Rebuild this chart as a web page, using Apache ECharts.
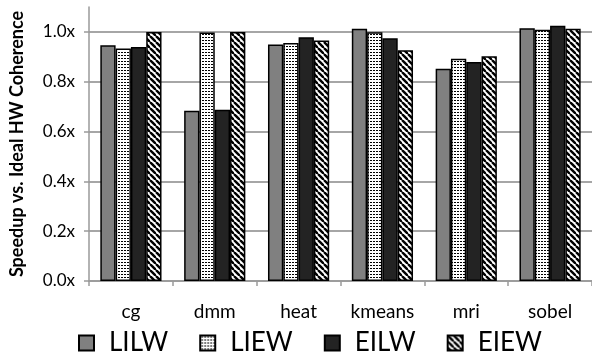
<!DOCTYPE html>
<html>
<head>
<meta charset="utf-8">
<script src="https://cdn.jsdelivr.net/npm/echarts@6/dist/echarts.min.js"></script>
<style>
html,body{margin:0;padding:0;background:#fff;}
#chart{width:592px;height:354px;}
</style>
</head>
<body>
<div id="chart"></div>
<script>
const categories = ['cg', 'dmm', 'heat', 'kmeans', 'mri', 'sobel'];
const seriesNames = ['LILW', 'LIEW', 'EILW', 'EIEW'];
const LILW = [0.946, 0.683, 0.949, 1.013, 0.852, 1.015];
const LIEW = [0.933, 0.998, 0.955, 0.999, 0.892, 1.009];
const EILW = [0.939, 0.688, 0.979, 0.975, 0.879, 1.025];
const EIEW = [1.000, 1.000, 0.966, 0.926, 0.902, 1.013];
const yTicks = [0, 0.2, 0.4, 0.6, 0.8, 1.0];

function dotPattern() {
  const c = document.createElement('canvas');
  c.width = 3; c.height = 3;
  const g = c.getContext('2d');
  g.fillStyle = '#fff'; g.fillRect(0, 0, 3, 3);
  g.fillStyle = '#000'; g.fillRect(1, 1, 2, 1);
  return { image: c, repeat: 'repeat' };
}
function stripePattern() {
  const n = 6;
  const c = document.createElement('canvas');
  c.width = n; c.height = n;
  const g = c.getContext('2d');
  g.fillStyle = '#fff'; g.fillRect(0, 0, n, n);
  g.strokeStyle = '#000';
  g.lineWidth = n / (2 * Math.SQRT2) + 0.3;
  for (const k of [-n, 0, n]) {
    g.beginPath();
    g.moveTo(k, 0); g.lineTo(k + n, n);
    g.stroke();
  }
  return { image: c, repeat: 'repeat' };
}

const fills = ['#808080', dotPattern(), '#232323', stripePattern()];
const values = [LILW, LIEW, EILW, EIEW];
const FONT = 'Lato';

const chart = echarts.init(document.getElementById('chart'), null, { renderer: 'canvas' });
chart.setOption({
  animation: false,
  backgroundColor: '#fff',
  textStyle: { fontFamily: FONT, color: '#000' },
  grid: { left: 87, right: -2, top: 7, bottom: 73, containLabel: false },
  legend: {
    data: seriesNames,
    left: 73, top: 325,
    icon: 'rect',
    itemWidth: 15, itemHeight: 15, itemGap: 31,
    textStyle: { fontSize: 26, fontFamily: FONT, color: '#000', padding: [0, 0, 0, 10] }
  },
  xAxis: {
    type: 'category',
    data: categories,
    boundaryGap: true,
    axisLine: { lineStyle: { color: '#9a9a9a', width: 1.5 } },
    axisTick: { show: true, alignWithLabel: false, length: 5, lineStyle: { color: '#9a9a9a', width: 1.5 } },
    axisLabel: { fontSize: 19, margin: 21, color: '#000', fontFamily: FONT }
  },
  yAxis: {
    type: 'value',
    min: 0, max: 1.1, interval: 0.2,
    name: 'Speedup vs. Ideal HW Coherence',
    nameLocation: 'middle',
    nameGap: 63,
    nameTextStyle: { fontSize: 18, fontWeight: 'bold', fontFamily: FONT, color: '#000' },
    axisLine: { show: true, lineStyle: { color: '#9a9a9a', width: 1.5 } },
    axisTick: { show: true, length: 5, customValues: yTicks, lineStyle: { color: '#9a9a9a', width: 1.5 } },
    axisLabel: {
      fontSize: 17, margin: 14, color: '#000', fontFamily: FONT,
      customValues: yTicks,
      formatter: v => v.toFixed(1) + 'x'
    },
    splitLine: { show: true, lineStyle: { color: '#a6a6a6', width: 2 } }
  },
  series: seriesNames.map((name, i) => ({
    name: name,
    type: 'bar',
    data: values[i],
    barGap: '0%',
    barCategoryGap: '27%',
    itemStyle: { color: fills[i], borderColor: '#000', borderWidth: 1.5 }
  }))
});
</script>
</body>
</html>
